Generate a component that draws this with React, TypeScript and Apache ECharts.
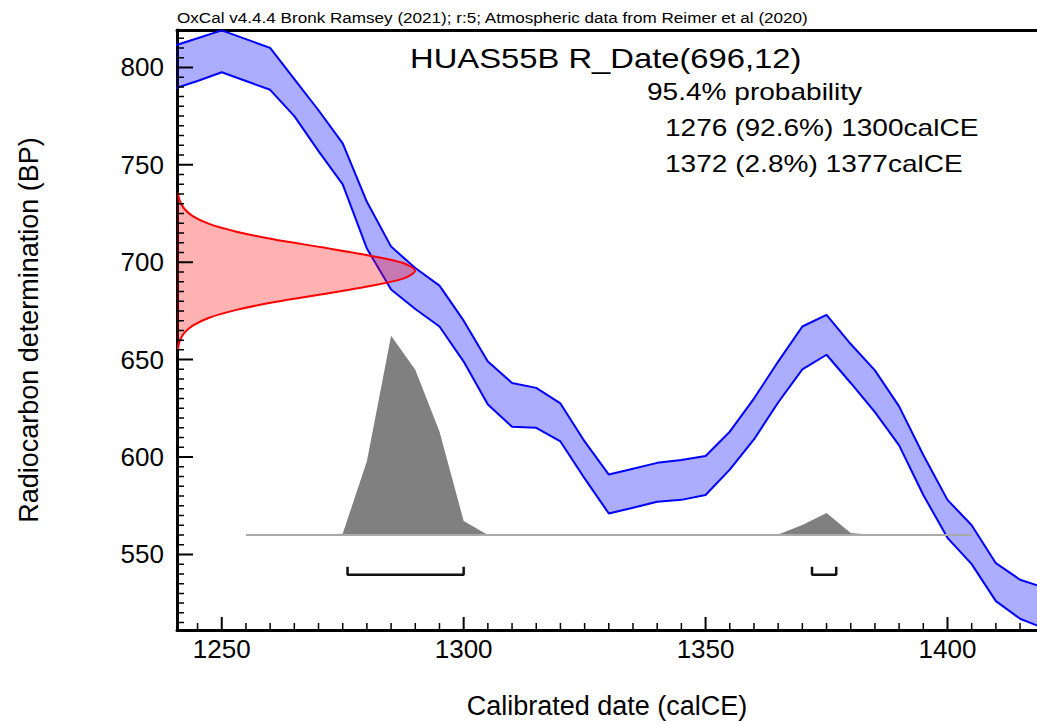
import React, { useEffect, useRef } from "react";
import * as echarts from "echarts";

// ---------- data ----------
// Calibration curve (IntCal20) envelope, 1-sigma band, calendar years CE
const curveYears = [
  1240, 1245, 1250, 1255, 1260, 1265, 1270, 1275, 1280, 1285, 1290, 1295, 1300,
  1305, 1310, 1315, 1320, 1325, 1330, 1335, 1340, 1345, 1350, 1355, 1360, 1365,
  1370, 1375, 1380, 1385, 1390, 1395, 1400, 1405, 1410, 1415, 1420,
];
const curveUpperBP = [
  811, 815, 819, 814.5, 810, 794, 778, 761, 731, 708, 697, 688, 670,
  649, 638, 635.5, 627.5, 608, 591, 594, 597, 598.5, 600.5, 613, 630, 649,
  667, 673, 658, 644.5, 626, 601, 578, 565, 545.5, 537, 533,
];
const curveLowerBP = [
  789, 793, 797.5, 793, 788.5, 775, 757, 740, 707, 686, 676, 667, 649,
  627, 615.5, 615, 608, 589, 571, 574, 577, 578, 580.5, 593.5, 609, 628,
  645, 652.5, 638, 623, 606, 580.5, 558.5, 545, 526, 517, 512,
];

// Calibrated probability distribution (relative to its peak)
const distYears = [
  1255, 1260, 1265, 1270, 1275, 1280, 1285, 1290, 1295, 1300, 1305, 1310, 1315,
  1320, 1325, 1330, 1335, 1340, 1345, 1350, 1355, 1360, 1365, 1370, 1375, 1380,
  1385, 1390, 1395, 1400, 1405,
];
const distProb = [
  0, 0, 0, 0.003, 0.006, 0.37, 1.0, 0.83, 0.52, 0.07, 0, 0, 0,
  0, 0, 0, 0, 0, 0, 0, 0, 0, 0.003, 0.05, 0.11, 0.01,
  0, 0, 0, 0, 0,
];

// Radiocarbon measurement R_Date(696,12): relative density by BP
const dateBP = [
  656, 660, 664, 668, 672, 676, 680, 684, 688, 692, 696, 700, 704, 708, 712, 716,
  720, 724, 728, 732, 736,
];
const dateDensity = [
  0.004, 0.011, 0.029, 0.066, 0.135, 0.25, 0.41, 0.61, 0.8, 0.95, 1.0, 0.95, 0.8,
  0.61, 0.41, 0.25, 0.135, 0.066, 0.029, 0.011, 0.004,
];

// 95.4% ranges
const rangeStart = [1276, 1372];
const rangeEnd = [1300, 1377];

// tick labels
const xMajorTicks = [1250, 1300, 1350, 1400];
const yMajorTicks = [550, 600, 650, 700, 750, 800];

const headerText =
  "OxCal v4.4.4 Bronk Ramsey (2021); r:5; Atmospheric data from Reimer et al (2020)";
const titleText = "HUAS55B R_Date(696,12)";
const probLines = [
  "95.4% probability",
  "1276 (92.6%) 1300calCE",
  "1372 (2.8%) 1377calCE",
];
const xAxisTitle = "Calibrated date (calCE)";
const yAxisTitle = "Radiocarbon determination (BP)";

// ---------- layout / style constants ----------
const X_MIN = 1240.75;
const X_MAX = 1418.5;
const Y_MIN = 511.2;
const Y_MAX = 819.2;
const DENS_MAX = 3.613; // hidden x axis for the measurement curve
const PROB_MIN = -0.477; // hidden y axis for the calibrated distribution
const PROB_MAX = 2.535;
const BRACKET_LEVEL = -0.2;
const BRACKET_TOP = -0.16;
const FONT = "'Liberation Sans', Arial, Helvetica, sans-serif";
const GRID_W = 860;
const GRID_H = 602;
const GRID = { left: 177, top: 30, width: GRID_W, height: GRID_H, containLabel: false };
const MINOR_STEP = 5;
const MINOR_LEN = 7; // px
const X_MAJOR_LEN = 13; // px
const Y_MAJOR_LEN = 16; // px

function stepValues(a: number, b: number, step: number) {
  const out: number[] = [];
  for (let v = Math.ceil(a / step) * step; v <= b + 1e-9; v += step) out.push(v);
  return out;
}

function polygonSeries(
  xIdx: number,
  yIdx: number,
  pts: number[][],
  fill: string,
  z: number,
  smooth = 0
) {
  return {
    type: "custom",
    xAxisIndex: xIdx,
    yAxisIndex: yIdx,
    clip: true,
    silent: true,
    z,
    data: [pts[0]],
    renderItem: (_params: any, api: any) => ({
      type: "polygon",
      shape: { points: pts.map((p) => api.coord(p)), smooth },
      style: { fill, stroke: "none" },
    }),
  };
}

function lineSeries(
  xIdx: number,
  yIdx: number,
  pts: any[],
  color: string,
  width: number,
  z: number,
  smooth: number | boolean = false
) {
  return {
    type: "line",
    xAxisIndex: xIdx,
    yAxisIndex: yIdx,
    data: pts,
    symbol: "none",
    silent: true,
    smooth,
    connectNulls: false,
    clip: false,
    z,
    lineStyle: { color, width, cap: "butt" },
  };
}

// Tick marks as broken line segments along the bottom ("x") or left ("y") axis.
function tickSeries(dim: "x" | "y", values: number[], lenPx: number, width: number) {
  const pts: any[] = [];
  if (dim === "x") {
    const len = (lenPx / GRID_H) * (Y_MAX - Y_MIN);
    values.forEach((v) => pts.push([v, Y_MIN], [v, Y_MIN + len], [v, "-"]));
  } else {
    const len = (lenPx / GRID_W) * (X_MAX - X_MIN);
    values.forEach((v) => pts.push([X_MIN, v], [X_MIN + len, v], ["-", v]));
  }
  return lineSeries(0, 0, pts, "#000", width, 30);
}

const hiddenAxisParts = {
  axisLine: { show: false, onZero: false },
  axisTick: { show: false },
  axisLabel: { show: false },
  splitLine: { show: false },
};

function buildOption() {
  const upper = curveYears.map((y, i) => [y, curveUpperBP[i]]);
  const lower = curveYears.map((y, i) => [y, curveLowerBP[i]]);
  const band = upper.concat(lower.slice().reverse());

  const dist = distYears.map((y, i) => [y, distProb[i]]);
  const distPoly = dist.concat([
    [distYears[distYears.length - 1], 0],
    [distYears[0], 0],
  ]);
  const baseline = [
    [distYears[0], 0],
    [distYears[distYears.length - 1], 0],
  ];

  const meas = dateBP.map((bp, i) => [dateDensity[i], bp]);
  const measPoly = [[0, dateBP[0]]].concat(meas, [[0, dateBP[dateBP.length - 1]]]);

  const brackets = rangeStart.map((s, i) =>
    lineSeries(
      0,
      1,
      [
        [s, BRACKET_TOP],
        [s, BRACKET_LEVEL],
        [rangeEnd[i], BRACKET_LEVEL],
        [rangeEnd[i], BRACKET_TOP],
      ],
      "#111",
      2.5,
      20
    )
  );

  const xMinor = stepValues(X_MIN, X_MAX, MINOR_STEP).filter((v) => !xMajorTicks.includes(v));
  const yMinor = stepValues(Y_MIN, Y_MAX, MINOR_STEP).filter((v) => !yMajorTicks.includes(v));

  const labelStyle = {
    fontSize: 26,
    color: "#000",
    fontFamily: FONT,
    formatter: (v: number) => String(v),
  };

  return {
    animation: false,
    backgroundColor: "#ffffff",
    grid: [GRID, { ...GRID }],
    xAxis: [
      {
        type: "value",
        gridIndex: 0,
        min: X_MIN,
        max: X_MAX,
        position: "bottom",
        name: xAxisTitle,
        nameLocation: "middle",
        nameGap: 62,
        nameTextStyle: { fontSize: 27, color: "#000", fontFamily: FONT },
        axisLine: { show: true, onZero: false, lineStyle: { color: "#000", width: 3 } },
        axisTick: { show: false },
        axisLabel: { show: true, customValues: xMajorTicks, margin: 6, ...labelStyle },
        splitLine: { show: false },
      },
      {
        type: "value",
        gridIndex: 0,
        min: X_MIN,
        max: X_MAX,
        position: "top",
        axisLine: { show: true, onZero: false, lineStyle: { color: "#000", width: 3 } },
        axisTick: { show: false },
        axisLabel: { show: false },
        splitLine: { show: false },
      },
      { type: "value", gridIndex: 1, min: 0, max: DENS_MAX, ...hiddenAxisParts },
    ],
    yAxis: [
      {
        type: "value",
        gridIndex: 0,
        min: Y_MIN,
        max: Y_MAX,
        position: "left",
        name: yAxisTitle,
        nameLocation: "middle",
        nameGap: 135,
        nameTextStyle: { fontSize: 27, color: "#000", fontFamily: FONT },
        axisLine: { show: true, onZero: false, lineStyle: { color: "#000", width: 3 } },
        axisTick: { show: false },
        axisLabel: { show: true, customValues: yMajorTicks, margin: 13, ...labelStyle },
        splitLine: { show: false },
      },
      {
        type: "value",
        gridIndex: 0,
        min: PROB_MIN,
        max: PROB_MAX,
        position: "right",
        ...hiddenAxisParts,
      },
      { type: "value", gridIndex: 1, min: Y_MIN, max: Y_MAX, ...hiddenAxisParts },
    ],
    graphic: [
      {
        type: "text",
        x: 177,
        y: 17,
        scaleX: 1.14,
        silent: true,
        style: {
          text: headerText,
          fontSize: 15,
          fontFamily: FONT,
          fill: "#000",
          textAlign: "left",
          textVerticalAlign: "middle",
        },
      },
      {
        type: "text",
        x: 410,
        y: 58,
        scaleX: 1.17,
        silent: true,
        z: 100,
        style: {
          text: titleText,
          fontSize: 28,
          fontFamily: FONT,
          fill: "#000",
          textAlign: "left",
          textVerticalAlign: "middle",
        },
      },
      ...probLines.map((t, i) => ({
        type: "text",
        x: i === 0 ? 647 : 665,
        y: [92, 128, 163.5][i],
        scaleX: 1.22,
        silent: true,
        z: 100,
        style: {
          text: t,
          fontSize: 23,
          fontFamily: FONT,
          fill: "#000",
          textAlign: "left",
          textVerticalAlign: "middle",
        },
      })),
    ],
    series: [
      { ...polygonSeries(0, 0, band, "rgba(0,0,255,0.32)", 1) },
      { ...lineSeries(0, 0, upper, "#0000ff", 2, 2), clip: true },
      { ...lineSeries(0, 0, lower, "#0000ff", 2, 2), clip: true },
      polygonSeries(0, 1, distPoly, "#808080", 3),
      lineSeries(0, 1, baseline, "#aaaaaa", 2, 4),
      polygonSeries(2, 2, measPoly, "rgba(255,0,0,0.3)", 5, 0.3),
      lineSeries(2, 2, meas, "#ff0000", 2, 6, 0.3),
      ...brackets,
      tickSeries("x", xMinor, MINOR_LEN, 1.5),
      tickSeries("x", xMajorTicks, X_MAJOR_LEN, 2),
      tickSeries("y", yMinor, MINOR_LEN, 1.5),
      tickSeries("y", yMajorTicks, Y_MAJOR_LEN, 2),
    ],
  };
}

export default function App() {
  const ref = useRef<HTMLDivElement | null>(null);
  useEffect(() => {
    if (!ref.current) return;
    const chart = echarts.init(ref.current, undefined, { renderer: "svg" });
    chart.setOption(buildOption() as any);
    return () => {
      chart.dispose();
    };
  }, []);
  return (
    <div
      ref={ref}
      style={{
        position: "fixed",
        left: 0,
        top: 0,
        width: 1037,
        height: 724,
        background: "#fff",
      }}
    />
  );
}
